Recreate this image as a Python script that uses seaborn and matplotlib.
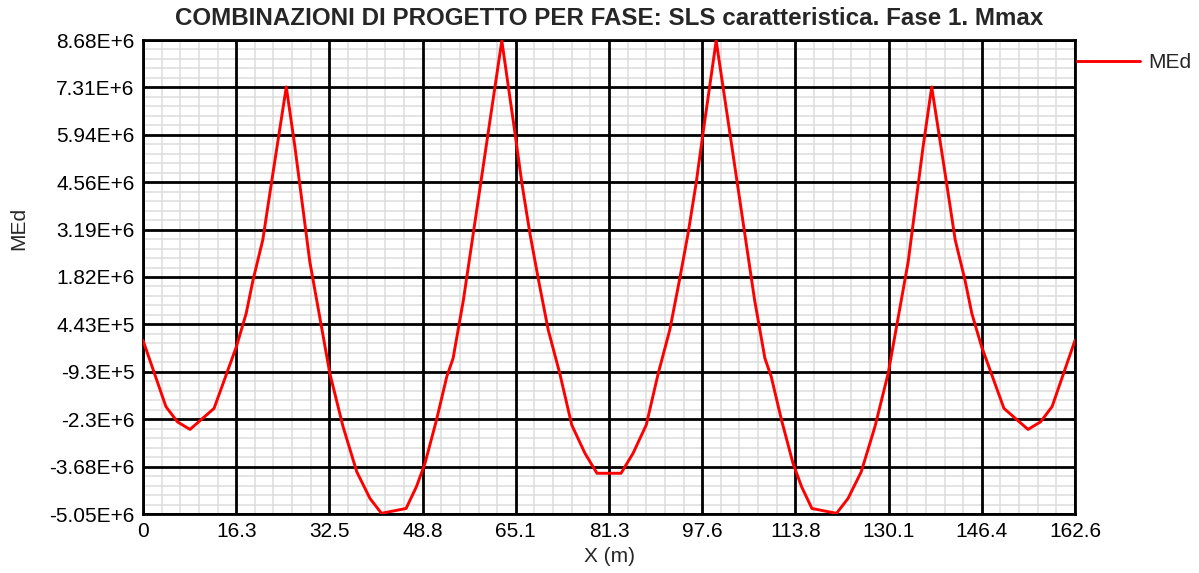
import numpy as np
import pandas as pd
import matplotlib
matplotlib.use("Agg")
import matplotlib.pyplot as plt
import seaborn as sns
from matplotlib.ticker import AutoMinorLocator

# ---- data (x in m, MEd in units of 1e6) ----
x_m = [0.0, 4.0, 6.0, 8.2, 12.4, 16.3, 18.0, 19.2, 20.9, 22.4, 25.0, 26.5, 29.1, 30.3,
       32.6, 34.9, 37.3, 39.6, 41.6, 45.9, 47.7, 49.2, 51.2, 53.0, 54.1, 55.9, 62.6,
       64.9, 66.1, 67.5, 69.0, 70.7, 72.7, 74.8, 77.1, 79.2,
       83.4, 85.5, 87.8, 89.9, 91.9, 93.6, 95.1, 96.5, 97.7, 100.0,
       106.7, 108.5, 109.6, 111.4, 113.4, 114.9, 116.7, 121.0, 123.0, 125.3, 127.7,
       130.0, 132.3, 133.5, 136.1, 137.6, 140.2, 141.7, 143.4, 144.6, 146.3, 150.2,
       154.4, 156.6, 158.6, 162.6]
med_e6 = [-0.02, -1.94, -2.38, -2.60, -1.99, -0.20, 0.76, 1.73, 2.89, 4.53, 7.32, 5.59, 2.26, 1.15,
          -0.98, -2.52, -3.83, -4.60, -5.03, -4.89, -4.26, -3.58, -2.33, -1.07, -0.54, 1.15, 8.66,
          5.98, 4.53, 3.08, 1.73, 0.28, -0.97, -2.47, -3.29, -3.87,
          -3.87, -3.29, -2.47, -0.97, 0.28, 1.73, 3.08, 4.53, 5.98, 8.66,
          1.15, -0.54, -1.07, -2.33, -3.58, -4.26, -4.89, -5.03, -4.60, -3.83, -2.52,
          -0.98, 1.15, 2.26, 5.59, 7.32, 4.53, 2.89, 1.73, 0.76, -0.20, -1.99,
          -2.60, -2.38, -1.94, -0.02]

x_tick_labels = ["0", "16.3", "32.5", "48.8", "65.1", "81.3", "97.6", "113.8", "130.1", "146.4", "162.6"]
y_tick_labels = ["-5.05E+6", "-3.68E+6", "-2.3E+6", "-9.3E+5", "4.43E+5", "1.82E+6",
                 "3.19E+6", "4.56E+6", "5.94E+6", "7.31E+6", "8.68E+6"]
x_lim = (0.0, 162.6)
y_lim = (-5.05e6, 8.68e6)

title = "COMBINAZIONI DI PROGETTO PER FASE: SLS caratteristica. Fase 1. Mmax"

df = pd.DataFrame({"X (m)": x_m, "MEd": np.array(med_e6) * 1e6})

sns.set_style("white")
plt.rcParams["font.family"] = ["Liberation Sans", "DejaVu Sans"]

fig = plt.figure(figsize=(11.99, 5.73), dpi=100)
ax = fig.add_axes([143 / 1199, 1 - 514 / 573, (1075 - 143) / 1199, (514 - 40) / 573])

sns.lineplot(data=df, x="X (m)", y="MEd", color="#ff0000", linewidth=2.1,
             estimator=None, sort=False, ax=ax, label="MEd", zorder=5)

ax.set_xlim(*x_lim)
ax.set_ylim(*y_lim)
ax.set_xticks(np.linspace(x_lim[0], x_lim[1], len(x_tick_labels)))
ax.set_xticklabels(x_tick_labels)
ax.set_yticks(np.linspace(y_lim[0], y_lim[1], len(y_tick_labels)))
ax.set_yticklabels(y_tick_labels)
ax.xaxis.set_minor_locator(AutoMinorLocator(5))
ax.yaxis.set_minor_locator(AutoMinorLocator(5))

# minor grid drawn below the major grid
for xv in ax.xaxis.get_minorticklocs():
    ax.axvline(xv, color="#dcdcdc", linewidth=1.1, zorder=0.1)
for yv in ax.yaxis.get_minorticklocs():
    ax.axhline(yv, color="#dcdcdc", linewidth=1.1, zorder=0.1)
ax.grid(which="major", color="black", linewidth=2.0)
ax.set_axisbelow(True)
ax.tick_params(which="both", length=0, labelsize=15, colors="black", pad=6)
for s in ax.spines.values():
    s.set_color("black")
    s.set_linewidth(2.0)
    s.set_visible(True)

ax.set_xlabel("X (m)", fontsize=15, labelpad=4)
ax.set_ylabel("MEd", fontsize=15)
ax.yaxis.set_label_coords((28 - 143) / 932, (514 - 228) / 474)
ax.set_title(title, fontsize=17.4, fontweight="bold", pad=11)

leg = ax.legend(loc="upper left", bbox_to_anchor=(0.991, 0.994), frameon=False,
                fontsize=15, handlelength=3.0, handletextpad=0.4, borderaxespad=0.1)

fig.savefig("out.png", dpi=100)
